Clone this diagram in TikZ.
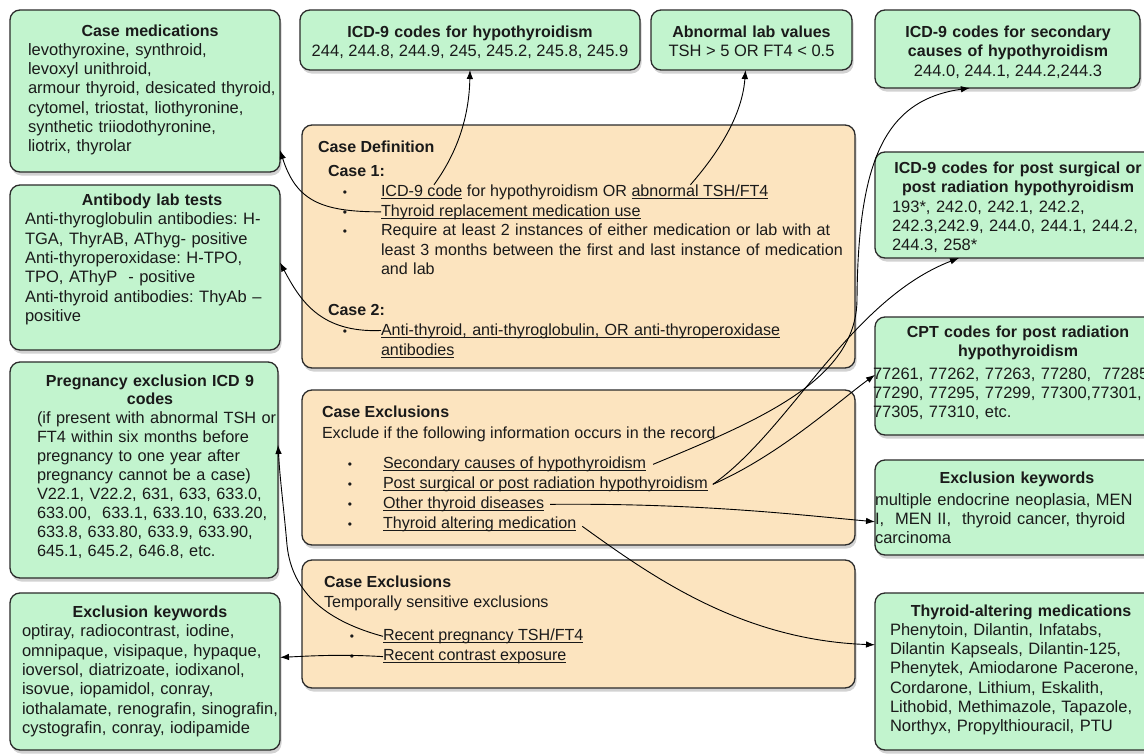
\documentclass[tikz,border=0pt]{standalone}
\usepackage{fontspec}
\setmainfont{Liberation Sans}
\usetikzlibrary{arrows.meta,shadows,calc}
\definecolor{gfill}{HTML}{C2F4CE}
\definecolor{ofill}{HTML}{FCE4BF}
\definecolor{bord}{HTML}{2B2B2B}
\definecolor{txt}{HTML}{1A1A1A}
\newsavebox\ulbox
\newcommand{\uln}[1]{\leavevmode\sbox\ulbox{#1}\rlap{\vrule height -1.7pt depth 2.7pt width \wd\ulbox}\usebox\ulbox}
\begin{document}
\frenchspacing
\begin{tikzpicture}[x=1pt,y=-1pt,
 every node/.style={inner sep=0pt,outer sep=0pt,text=txt,font=\fontsize{16.5}{19.3}\selectfont},
 rbox/.style={draw=bord,line width=1.3pt,rounded corners=10pt,anchor=north west,
   drop shadow={shadow xshift=1.5pt,shadow yshift=-3.5pt,opacity=0.35}},
 gbox/.style={rbox,fill=gfill},
 obox/.style={rbox,fill=ofill},
 ttl/.style={anchor=base,align=center,text width=320pt,font=\fontsize{16}{19.3}\selectfont\bfseries},
 ctr/.style={anchor=base},
 bdy/.style={anchor=base west,align=left,text width=700pt},
 lbl/.style={anchor=base west},
 cnt/.style={font=\fontsize{16.1}{19.5}\selectfont},
 hd/.style={anchor=base west,font=\fontsize{16}{19.3}\selectfont\bfseries},
 bul/.style={anchor=base,font=\fontsize{12}{14}\selectfont},
 conn/.style={line width=0.9pt,draw=black,-{Latex[length=9pt,width=6.5pt]}}
]
\useasboundingbox (0,0) rectangle (1144,755);
\fill[white] (0,0) rectangle (1144,755);
\begin{scope}
\clip (0,0) rectangle (1144,755);
% ---------- boxes ----------
\node[gbox,minimum width=270,minimum height=162] (cmBox) at (10,10) {};
\node[gbox,minimum width=270,minimum height=165] (abBox) at (10,185) {};
\node[gbox,minimum width=268,minimum height=216] (pgBox) at (10,362) {};
\node[gbox,minimum width=270,minimum height=157] (ekL) at (10,593) {};
\node[gbox,minimum width=340,minimum height=60] (hypoBox) at (300,10) {};
\node[gbox,minimum width=201,minimum height=60] (abnBox) at (651,10) {};
\node[gbox,minimum width=265,minimum height=78] (secBox) at (875,10) {};
\node[gbox,minimum width=300,minimum height=106] (postBox) at (875,152) {};
\node[gbox,minimum width=300,minimum height=118] (cptBox) at (875,317) {};
\node[gbox,minimum width=300,minimum height=95] (ekR) at (875,460) {};
\node[gbox,minimum width=300,minimum height=157] (taBox) at (875,593) {};
\node[obox,minimum width=553,minimum height=243] (cdBox) at (302,125) {};
\node[obox,minimum width=553,minimum height=155] (ceBox) at (302,390) {};
\node[obox,minimum width=553,minimum height=128] (teBox) at (302,560) {};
% ---------- left column ----------
\node[ttl] (cmTitle) at (150,36) {Case medications};
\node[bdy] (cmBody) at (28,55.3) {levothyroxine, synthroid,\\levoxyl unithroid,\\armour thyroid, desicated thyroid,\\cytomel, triostat, liothyronine,\\synthetic triiodothyronine,\\liotrix, thyrolar};
\node[ttl] (abTitle) at (152,205.5) {Antibody lab tests};
\node[bdy] (abBody) at (25,224.8) {Anti-thyroglobulin antibodies: H-\\TGA, ThyrAB, AThyg- positive\\Anti-thyroperoxidase: H-TPO,\\TPO, AThyP\ \ - positive\\Anti-thyroid antibodies: ThyAb --\\positive};
\node[ttl,font=\fontsize{16}{18.9}\selectfont\bfseries] (pgTitle) at (150,386) {Pregnancy exclusion ICD 9\\codes};
\node[bdy,font=\fontsize{16.3}{18.9}\selectfont] (pgBody) at (37,423.8) {(if present with abnormal TSH or\\FT4 within six months before\\pregnancy to one year after\\pregnancy cannot be a case)\\V22.1, V22.2, 631, 633, 633.0,\\633.00,\ \ 633.1, 633.10, 633.20,\\633.8, 633.80, 633.9, 633.90,\\645.1, 645.2, 646.8, etc.};
\node[ttl] (ekLTitle) at (150,617.5) {Exclusion keywords};
\node[bdy] (ekLBody) at (22,636.8) {optiray, radiocontrast, iodine,\\omnipaque, visipaque, hypaque,\\ioversol, diatrizoate, iodixanol,\\isovue, iopamidol, conray,\\iothalamate, renografin, sinografin,\\cystografin, conray, iodipamide};
% ---------- top row ----------
\node[ttl] (hypoTitle) at (470,37.5) {ICD-9 codes for hypothyroidism};
\node[ctr] (hypoBody) at (470,56.8) {244, 244.8, 244.9, 245, 245.2, 245.8, 245.9};
\node[ttl] (abnTitle) at (751.5,37.5) {Abnormal lab values};
\node[ctr] (abnBody) at (751.5,56.8) {TSH > 5 OR FT4 < 0.5};
% ---------- right column ----------
\node[ttl] (secTitle) at (1008,37.5) {ICD-9 codes for secondary\\causes of hypothyroidism};
\node[ctr] (secBody) at (1008,76.1) {244.0, 244.1, 244.2,244.3};
\node[ttl] (postTitle) at (1018,173.5) {ICD-9 codes for post surgical or\\post radiation hypothyroidism};
\node[bdy] (postBody) at (892,212.1) {193*, 242.0, 242.1, 242.2,\\242.3,242.9, 244.0, 244.1, 244.2,\\244.3, 258*};
\node[ttl] (cptTitle) at (1018,337.5) {CPT codes for post radiation\\hypothyroidism};
\node[bdy] (cptBody) at (873,379) {77261, 77262, 77263, 77280,\ \ 77285,\\77290, 77295, 77299, 77300,77301,\\77305, 77310, etc.};
\node[ttl] (ekRTitle) at (1017,483.5) {Exclusion keywords};
\node[bdy] (ekRBody) at (875,505) {multiple endocrine neoplasia, MEN\\I,\ \ MEN II,\ \ thyroid cancer, thyroid\\carcinoma};
\node[ttl] (taTitle) at (1021,616) {Thyroid-altering medications};
\node[bdy] (taBody) at (890,635.3) {Phenytoin, Dilantin, Infatabs,\\Dilantin Kapseals, Dilantin-125,\\Phenytek, Amiodarone Pacerone,\\Cordarone, Lithium, Eskalith,\\Lithobid, Methimazole, Tapazole,\\Northyx, Propylthiouracil, PTU};
% ---------- case definition ----------
\node[hd] (cdTitle) at (318,152.5) {Case Definition};
\node[hd] (cdC1) at (328,176.5) {Case 1:};
\node[bul] (b1) at (345,196.5) {\textbullet};
\node[bul] (b2) at (345,216) {\textbullet};
\node[bul] (b3) at (345,235.5) {\textbullet};
\node[lbl,cnt] (cdIcd) at (381,196.5) {\uln{ICD-9 code}};
\node[lbl,cnt] (cdMid) at (cdIcd.base east) {\ for hypothyroidism OR\ \mbox{}};
\node[lbl,cnt] (cdAbn) at (cdMid.base east) {\uln{abnormal TSH/FT4}};
\node[lbl,cnt] (cdRepl) at (381,216) {\uln{Thyroid replacement medication use}};
\node[bdy,cnt] (cdReq) at (381,235.5) {Require at least 2 instances of either medication or lab with at\\least 3 months between the first and last instance of medication\\and lab};
\node[hd] (cdC2) at (328,315.5) {Case 2:};
\node[bul] (b4) at (345,335.5) {\textbullet};
\node[bdy,cnt] (cdAnti) at (381,335.5) {\uln{Anti-thyroid, anti-thyroglobulin, OR anti-thyroperoxidase}\\\uln{antibodies}};
% ---------- case exclusions ----------
\node[hd] (ceTitle) at (322,417.5) {Case Exclusions};
\node[lbl,cnt] (ceSub) at (322,438.5) {Exclude if the following information occurs in the record};
\node[bul] (b5) at (350,468.5) {\textbullet};
\node[bul] (b6) at (350,488.5) {\textbullet};
\node[bul] (b7) at (350,508.5) {\textbullet};
\node[bul] (b8) at (350,528.5) {\textbullet};
\node[lbl,cnt] (ceSec) at (383,468.5) {\uln{Secondary causes of hypothyroidism}};
\node[lbl,cnt] (cePost) at (383,488.5) {\uln{Post surgical or post radiation hypothyroidism}};
\node[lbl,cnt] (ceOther) at (383,508.5) {\uln{Other thyroid diseases}};
\node[lbl,cnt] (ceMed) at (383,528.5) {\uln{Thyroid altering medication}};
% ---------- temporal exclusions ----------
\node[hd] (teTitle) at (324,587.5) {Case Exclusions};
\node[lbl,cnt] (teSub) at (324,607.5) {Temporally sensitive exclusions};
\node[bul] (b9) at (352,640.5) {\textbullet};
\node[bul] (b10) at (352,660.5) {\textbullet};
\node[lbl,cnt] (tePreg) at (383,640.5) {\uln{Recent pregnancy TSH/FT4}};
\node[lbl,cnt] (teCon) at (383,660.5) {\uln{Recent contrast exposure}};
% ---------- connector end points ----------
\coordinate (icdS) at ($(cdIcd.north west)!0.65!(cdIcd.north east)$);
\coordinate (abnS) at ($(cdAbn.north west)!0.43!(cdAbn.north east)$);
\coordinate (antiS) at ($(cdAnti.base west)+(0,-5)$);
\coordinate (cmE) at ($(cmBox.north east)!0.865!(cmBox.south east)$);
\coordinate (abE) at ($(abBox.north east)!0.47!(abBox.south east)$);
\coordinate (pgE) at ($(pgBox.north east)!0.384!(pgBox.south east)$);
\coordinate (ekLE) at ($(ekL.north east)!0.41!(ekL.south east)$);
\coordinate (secE) at ($(secBox.south west)!0.358!(secBox.south east)$);
\coordinate (postE) at ($(postBox.south west)!0.28!(postBox.south east)$);
\coordinate (cptE) at ($(cptBox.north west)!0.49!(cptBox.south west)$);
\coordinate (ekRE) at ($(ekR.north west)!0.65!(ekR.south west)$);
\coordinate (taE) at ($(taBox.north west)!0.33!(taBox.south west)$);
\coordinate (postS) at ($(cePost.east)+(5,0)$);
% ---------- connectors ----------
\draw[conn] (icdS) .. controls (452,160) and (469,125) .. (hypoBox.south);
\draw[conn] (abnS) .. controls (712,160) and (742,120) .. ($(abnBox.south)+(-6,0)$);
\draw[conn] (cdRepl.west) .. controls (320,212) and (296,200) .. (cmE);
\draw[conn] (antiS) .. controls (320,333) and (300,300) .. (abE);
\draw[conn] ($(ceSec.east)+(7,0)$) .. controls (760,420) and (856,380) .. (857,300)
   .. controls (858,160) and (885,100) .. (secE);
\draw[conn] (postS) .. controls (790,430) and (850,300) .. (postE);
\draw[conn] (postS) .. controls (780,455) and (840,400) .. (cptE);
\draw[conn] ($(ceOther.east)+(6,0)$) .. controls (700,503) and (800,515) .. (ekRE);
\draw[conn] ($(ceMed.east)+(6,2)$) .. controls (650,575) and (740,640) .. (taE);
\draw[conn] (tePreg.west) .. controls (330,622) and (292,595) .. (287,545)
   .. controls (284,510) and (280,480) .. (pgE);
\draw[conn] (teCon.west) .. controls (340,654) and (310,656) .. (ekLE);
\end{scope}
\end{tikzpicture}
\end{document}
